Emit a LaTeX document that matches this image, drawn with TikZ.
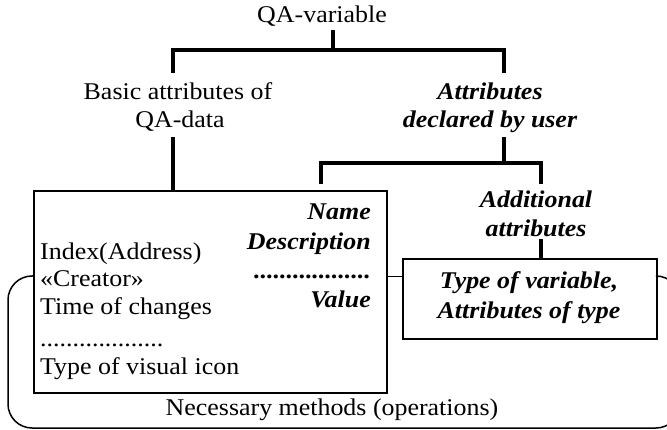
\documentclass[tikz,border=0pt]{standalone}
\usepackage{fontspec}
\setmainfont{Liberation Serif}[FakeStretch=1.08]
\begin{document}
\begin{tikzpicture}[x=1pt,y=-1pt,
  txt/.style={inner sep=0pt,font=\fontsize{24}{28}\selectfont},
  bitxt/.style={txt,font=\fontsize{24}{28}\selectfont\bfseries\itshape},
  thickline/.style={line width=3.5pt},
  boxline/.style={line width=1.8pt},
  thinline/.style={line width=1pt},
  bracketline/.style={line width=1.5pt}]
\useasboundingbox (0,0) rectangle (667,430);
% texts of the tree
\node[txt,anchor=base] (top) at (322,23) {QA-variable};
\node[txt,anchor=base] (basic1) at (178,100) {Basic attributes of};
\node[txt,anchor=base] (basic2) at (180,128) {QA-data};
\node[bitxt,anchor=base] (decl1) at (490,100) {Attributes};
\node[bitxt,anchor=base] (decl2) at (490,128) {declared by user};
\node[bitxt,anchor=base] (add1) at (536,208) {Additional};
\node[bitxt,anchor=base] (add2) at (536,237) {attributes};
% boxes
\node[draw,boxline,minimum width=353pt,minimum height=202pt,anchor=north west,inner sep=0pt] (lbox) at (33,190) {};
\node[draw,boxline,minimum width=254pt,minimum height=80pt,anchor=north west,inner sep=0pt] (rbox) at (402,258) {};
% box texts
\node[bitxt,anchor=base] (rt1) at (529,289) {Type of variable,};
\node[bitxt,anchor=base] (rt2) at (529,319) {Attributes of type};
\node[bitxt,anchor=base east] (nm) at (371,220) {Name};
\node[bitxt,anchor=base east] (ds) at (371,250) {Description};
\node[bitxt,anchor=base east] (d1) at (371,279) {..................};
\node[bitxt,anchor=base east] (vl) at (371,308) {Value};
\node[txt,anchor=base west] (ix) at (40,260) {Index(Address)};
\node[txt,anchor=base west] (cr) at (40,287) {«Creator»};
\node[txt,anchor=base west] (tc) at (40,315) {Time of changes};
\node[txt,anchor=base west] (d2) at (40,347) {...................};
\node[txt,anchor=base west] (ti) at (40,375) {Type of visual icon};
\node[txt,anchor=base] (nec) at (332,415) {Necessary methods (operations)};
% junction coordinates
\coordinate (j1) at (333,50);
\coordinate (j1l) at (173,50);
\coordinate (j1r) at (504,50);
\coordinate (j2) at (504,163);
\coordinate (j2l) at (321,163);
\coordinate (j2r) at (541,163);
% tree lines
\draw[thickline] (333,30) -- (j1);
\draw[thickline] (173,73) -- (j1l) -- (j1r) -- (504,73);
\draw[thickline] (173,137) -- (lbox.north -| 173,0);
\draw[thickline] (504,137) -- (j2);
\draw[thickline] (321,184) -- (j2l) -- (j2r) -- (541,184);
\draw[thickline] (541,239) -- (rbox.north -| 541,0);
% connector between boxes
\draw[thinline] (lbox.east |- 0,277) -- (rbox.west |- 0,277);
% bracket
\begin{scope}
\clip (0,0) rectangle (667,430);
\draw[bracketline,rounded corners=24pt] (lbox.west |- 0,276) -- (8,276) -- (8,428) -- (680,428) -- (680,276) -- (rbox.east |- 0,276);
\end{scope}
\end{tikzpicture}
\end{document}
